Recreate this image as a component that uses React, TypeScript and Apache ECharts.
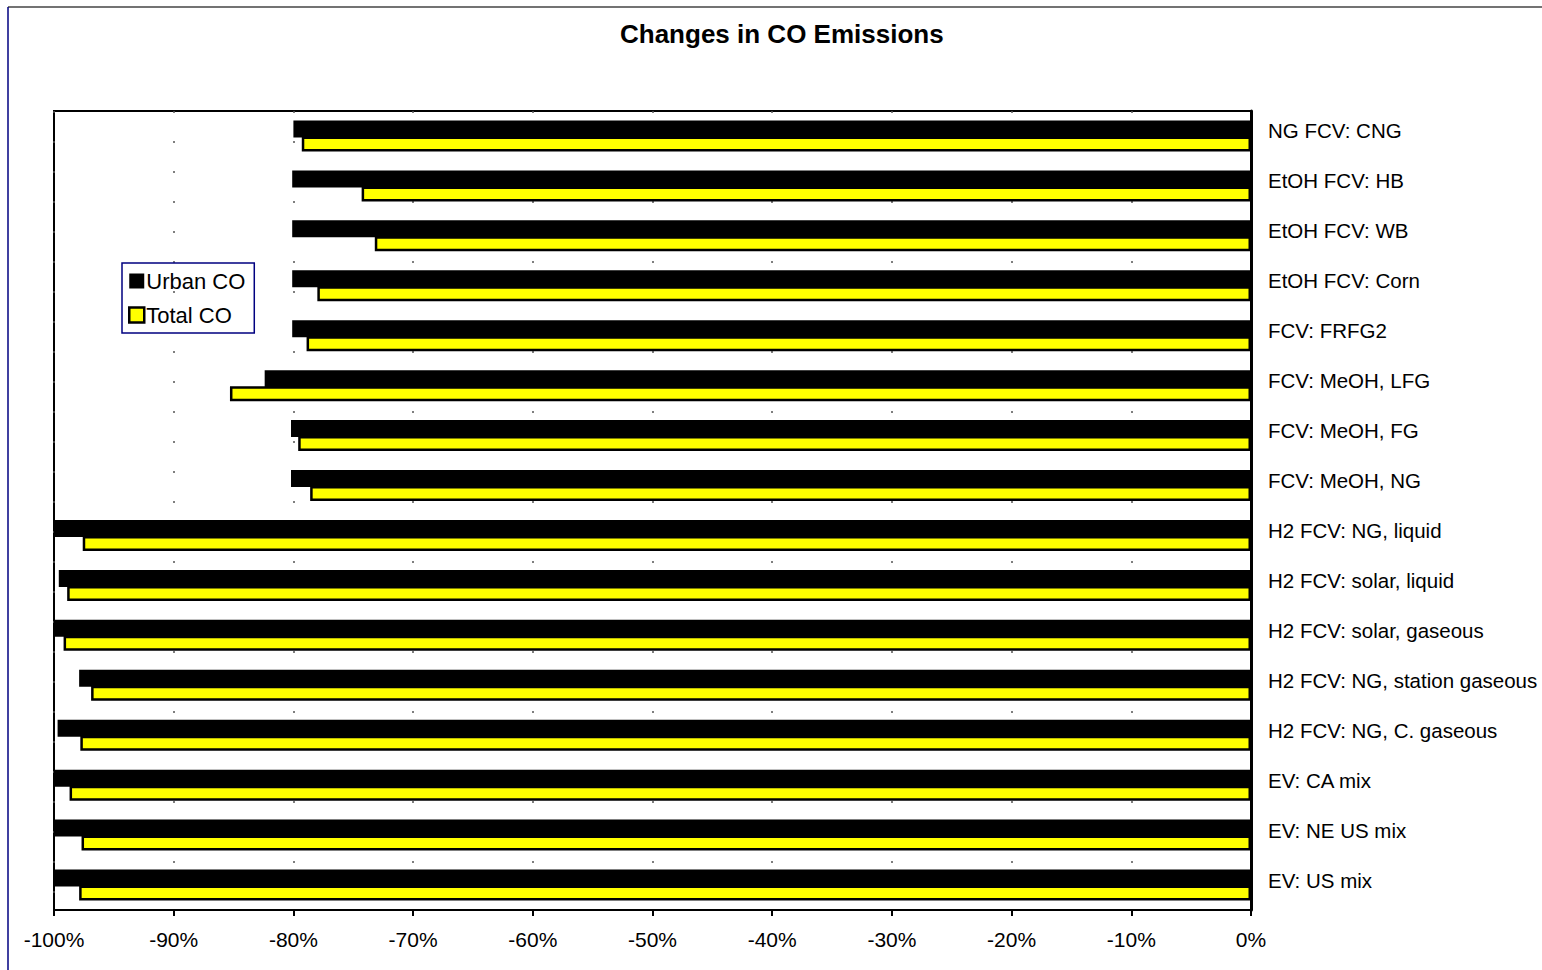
import React, { useEffect, useRef } from "react";
import * as echarts from "echarts";

const categories = [
  "NG FCV: CNG",
  "EtOH FCV: HB",
  "EtOH FCV: WB",
  "EtOH FCV: Corn",
  "FCV: FRFG2",
  "FCV: MeOH, LFG",
  "FCV: MeOH, FG",
  "FCV: MeOH, NG",
  "H2 FCV: NG, liquid",
  "H2 FCV: solar, liquid",
  "H2 FCV: solar, gaseous",
  "H2 FCV: NG, station gaseous",
  "H2 FCV: NG, C. gaseous",
  "EV: CA mix",
  "EV: NE US mix",
  "EV: US mix",
];

const urbanCO = [-80.0, -80.1, -80.1, -80.1, -80.1, -82.4, -80.2, -80.2, -100, -99.6, -100, -97.9, -99.7, -100, -100, -100];
const totalCO = [-79.3, -74.3, -73.2, -78.0, -78.9, -85.3, -79.6, -78.6, -97.6, -98.9, -99.2, -96.9, -97.8, -98.7, -97.7, -97.9];

const xTicks = { min: -100, max: 0, interval: 10 };

export default function App() {
  const ref = useRef<HTMLDivElement>(null);
  useEffect(() => {
    if (!ref.current) return;
    const chart = echarts.init(ref.current, undefined, { renderer: "svg" });
    const font = "Liberation Sans, Arial, Helvetica, sans-serif";
    chart.setOption({
      animation: false,
      backgroundColor: "#ffffff",
      textStyle: { fontFamily: font },
      title: {
        text: "Changes in CO Emissions",
        left: 615,
        top: 16,
        textStyle: { fontFamily: font, fontSize: 26, fontWeight: "bold", color: "#000" },
      },
      legend: {
        orient: "vertical",
        left: 122,
        top: 263,
        itemWidth: 15,
        itemHeight: 15,
        itemGap: 12,
        padding: [7, 9, 7, 6],
        borderColor: "#000080",
        borderWidth: 1.5,
        textStyle: { fontFamily: font, fontSize: 22, color: "#000", padding: [0, 0, 0, -3] },
        data: [
          { name: "Urban CO", icon: "rect" },
          { name: "Total CO", icon: "rect", itemStyle: { color: "#ffff00", borderColor: "#000", borderWidth: 2.5 } },
        ],
      },
      grid: {
        left: 54,
        right: 291,
        top: 111,
        bottom: 60,
        outerBoundsMode: "none",
        containLabel: false,
        show: true,
        borderColor: "#000",
        borderWidth: 2,
        backgroundColor: "#fff",
      },
      xAxis: {
        type: "value",
        min: xTicks.min,
        max: xTicks.max,
        interval: xTicks.interval,
        axisLine: { show: true, lineStyle: { color: "#000", width: 2 } },
        axisTick: { show: true, inside: false, length: 6, lineStyle: { color: "#000", width: 2 } },
        axisLabel: {
          formatter: (v: number) => `${v}%`,
          fontSize: 21,
          color: "#000",
          margin: 19,
          fontFamily: font,
        },
        splitLine: { show: true, lineStyle: { color: "#555", width: 1.5, type: [2, 28] } },
      },
      yAxis: {
        type: "category",
        data: categories,
        position: "right",
        inverse: true,
        axisLine: { show: true, lineStyle: { color: "#000", width: 3 } },
        axisTick: { show: false },
        axisLabel: {
          fontSize: 20.5,
          color: "#000",
          margin: 17,
          align: "left",
          verticalAlign: "bottom",
          lineHeight: 10,
          fontFamily: font,
        },
        splitLine: { show: false },
      },
      series: [
        {
          name: "Urban CO",
          type: "bar",
          data: urbanCO,
          barWidth: 17,
          barGap: "-6%",
          itemStyle: { color: "#000" },
        },
        {
          name: "Total CO",
          type: "bar",
          data: totalCO,
          barWidth: 15,
          itemStyle: { color: "#ffff00", borderColor: "#000", borderWidth: 2.5 },
        },
      ],
      graphic: [
        { type: "line", shape: { x1: 8, y1: 7, x2: 1542, y2: 7 }, style: { stroke: "#444", lineWidth: 1.5 } },
        { type: "line", shape: { x1: 8, y1: 7, x2: 8, y2: 970 }, style: { stroke: "#000080", lineWidth: 1.5 } },
      ],
    });
    return () => chart.dispose();
  }, []);
  return (
    <div
      ref={ref}
      style={{ position: "absolute", left: 0, top: 0, width: 1542, height: 970 }}
    />
  );
}
